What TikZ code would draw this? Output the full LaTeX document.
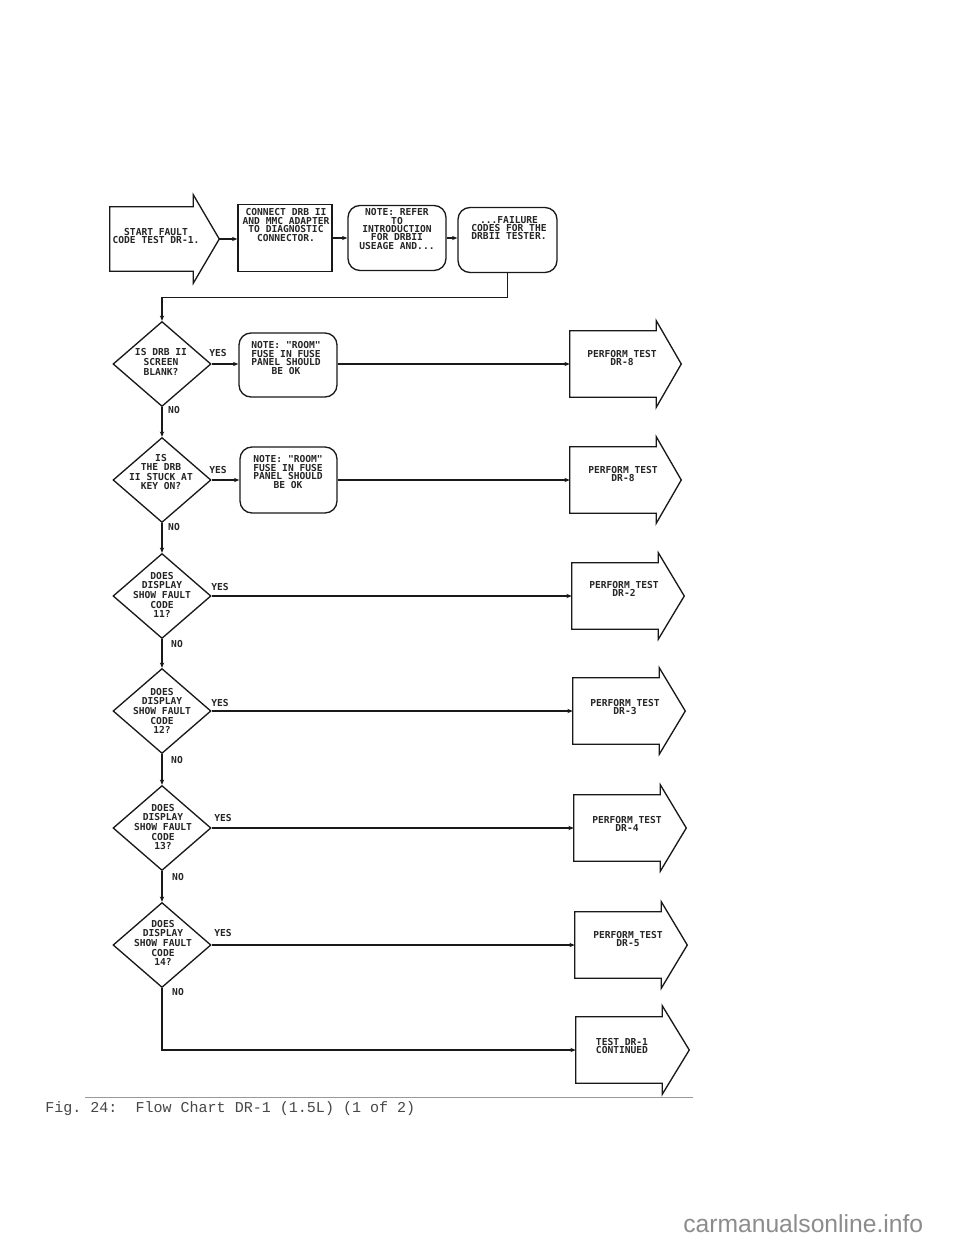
\documentclass[tikz,border=0pt]{standalone}
\usepackage{fontspec}
\setmainfont{Liberation Sans}
\newfontfamily\chartfont{DejaVu Sans Mono Bold}
\newfontfamily\capfont{Liberation Mono}
\newfontfamily\wmfont{Liberation Sans}
\usetikzlibrary{shapes.geometric,arrows.meta,calc}
\newcommand\flowarrow[3]{%
  \draw[shapeline] (#1.north east) -- ($(#1.north east)+(0,-#2)$) -- ($(#1.east)+(#3,0)$) -- ($(#1.south east)+(0,#2)$) -- (#1.south east) -- (#1.south west) -- (#1.north west) -- cycle;}
\begin{document}
\begin{tikzpicture}[x=0.75pt,y=-0.75pt,
  shapeline/.style={draw=black!90,line width=1pt,line join=miter},
  plainbox/.style={shapeline,rectangle,inner sep=0pt},
  roundbox/.style={shapeline,rectangle,rounded corners=9pt,inner sep=0pt},
  dia/.style={shapeline,diamond,inner sep=0pt,minimum width=73.5pt,minimum height=63.75pt},
  abody/.style={rectangle,draw=none,inner sep=0pt,minimum width=64.5pt,minimum height=49.5pt},
  txt/.style={font={\chartfont\fontsize{7.2}{6.3}\selectfont},align=center,inner sep=0pt,text=black!85},
  dtxt/.style={font={\chartfont\fontsize{7.2}{7.2}\selectfont},align=center,inner sep=0pt,text=black!85},
  lab/.style={font={\chartfont\fontsize{7.2}{7.2}\selectfont},inner sep=0pt,text=black!85},
  conn/.style={draw=black!90,line width=1pt,-{Stealth[length=4pt,width=3.2pt]}}]
\useasboundingbox (0,0) rectangle (960,1242);
\fill[white] (0,0) rectangle (960,1242);

% ---- top row
\node[abody,minimum width=62.25pt,minimum height=48pt] (start) at (151.5,239) {};
\flowarrow{start}{12}{26}
\coordinate (stip) at ($(start.east)+(26,0)$);
\node[txt] (startt) at (156,236) {START FAULT\\CODE TEST DR-1.};

\node[plainbox,minimum width=70.5pt,minimum height=50.25pt] (box2) at (285,238) {};
\node[txt] (box2t) at (286,225) {CONNECT DRB II\\AND MMC ADAPTER\\TO DIAGNOSTIC\\CONNECTOR.};

\node[roundbox,minimum width=73.5pt,minimum height=48.75pt] (box3) at (397,238) {};
\node[txt] (box3t) at (397,229) {NOTE: REFER\\TO\\INTRODUCTION\\FOR DRBII\\USEAGE AND...};

\node[roundbox,minimum width=74.25pt,minimum height=48.75pt] (box4) at (507.5,240) {};
\node[txt] (box4t) at (509,228) {...FAILURE\\CODES FOR THE\\DRBII TESTER.};

\draw[conn] (stip) -- (stip -| box2.west);
\draw[conn] (box2.east) -- (box3.west);
\draw[conn] (box3.east) -- (box3.east -| box4.west);

% ---- diamonds
\node[dia] (d1) at (162,364) {};
\node[dia] (d2) at (162,480) {};
\node[dia] (d3) at (162,596) {};
\node[dia] (d4) at (162,711) {};
\node[dia] (d5) at (162,828) {};
\node[dia] (d6) at (162,945) {};
\node[dtxt] (d1t) at (161,362) {IS DRB II\\SCREEN\\BLANK?};
\node[dtxt] (d2t) at (161,472) {IS\\THE DRB\\II STUCK AT\\KEY ON?};
\node[dtxt] (d3t) at (162,595) {DOES\\DISPLAY\\SHOW FAULT\\CODE\\11?};
\node[dtxt] (d4t) at (162,711) {DOES\\DISPLAY\\SHOW FAULT\\CODE\\12?};
\node[dtxt] (d5t) at (163,827) {DOES\\DISPLAY\\SHOW FAULT\\CODE\\13?};
\node[dtxt] (d6t) at (163,943) {DOES\\DISPLAY\\SHOW FAULT\\CODE\\14?};

% ---- notes
\node[roundbox,minimum width=73.5pt,minimum height=48pt] (n1) at (288,365) {};
\node[txt] (n1t) at (286,358) {NOTE: "ROOM"\\FUSE IN FUSE\\PANEL SHOULD\\BE OK};
\node[roundbox,minimum width=72.75pt,minimum height=49.5pt] (n2) at (288.5,480) {};
\node[txt] (n2t) at (288,472) {NOTE: "ROOM"\\FUSE IN FUSE\\PANEL SHOULD\\BE OK};

% ---- result arrows
\node[abody] (a1) at (613,364) {};
\node[abody] (a2) at (613,480) {};
\node[abody] (a3) at (615,596) {};
\node[abody] (a4) at (616,711) {};
\node[abody] (a5) at (617,828) {};
\node[abody] (a6) at (618,945) {};
\node[abody] (a7) at (619,1050) {};
\flowarrow{a1}{10}{25}
\flowarrow{a2}{10}{25}
\flowarrow{a3}{10}{26}
\flowarrow{a4}{10}{26}
\flowarrow{a5}{10}{26}
\flowarrow{a6}{10}{26}
\flowarrow{a7}{11}{27}
\node[txt] (a1t) at (622,358) {PERFORM TEST\\DR-8};
\node[txt] (a2t) at (623,474) {PERFORM TEST\\DR-8};
\node[txt] (a3t) at (624,589) {PERFORM TEST\\DR-2};
\node[txt] (a4t) at (625,707) {PERFORM TEST\\DR-3};
\node[txt] (a5t) at (627,824) {PERFORM TEST\\DR-4};
\node[txt] (a6t) at (628,939) {PERFORM TEST\\DR-5};
\node[txt] (a7t) at (622,1046) {TEST DR-1\\CONTINUED};

% ---- labels
\node[lab] (y1) at (218,353) {YES};
\node[lab] (y2) at (218,470) {YES};
\node[lab] (y3) at (220,587) {YES};
\node[lab] (y4) at (220,703) {YES};
\node[lab] (y5) at (223,818) {YES};
\node[lab] (y6) at (223,933) {YES};
\node[lab] (no1) at (174,410) {NO};
\node[lab] (no2) at (174,527) {NO};
\node[lab] (no3) at (177,644) {NO};
\node[lab] (no4) at (177,760) {NO};
\node[lab] (no5) at (178,877) {NO};
\node[lab] (no6) at (178,992) {NO};

% ---- connectors
\draw[conn] (box4.south) -- ++(0,24) -| (d1.north);
\draw[conn] (d1.east) -- (d1.east -| n1.west);
\draw[conn] (n1.east |- d1.east) -- (d1.east -| a1.west);
\draw[conn] (d1.south) -- (d2.north);
\draw[conn] (d2.east) -- (d2.east -| n2.west);
\draw[conn] (n2.east |- d2.east) -- (d2.east -| a2.west);
\draw[conn] (d2.south) -- (d3.north);
\draw[conn] (d3.east) -- (d3.east -| a3.west);
\draw[conn] (d3.south) -- (d4.north);
\draw[conn] (d4.east) -- (d4.east -| a4.west);
\draw[conn] (d4.south) -- (d5.north);
\draw[conn] (d5.east) -- (d5.east -| a5.west);
\draw[conn] (d5.south) -- (d6.north);
\draw[conn] (d6.east) -- (d6.east -| a6.west);
\draw[conn] (d6.south) |- (a7.west);

% ---- caption
\coordinate (capl) at (85,1097);
\coordinate (capr) at (693,1097);
\draw[black!40,line width=0.6pt] (capl) -- (capr);
\node[anchor=base west,inner sep=0pt,text=black!72,font={\capfont\fontsize{11.28}{13}\selectfont}] (cap) at (45,1112) {Fig.\ 24:\ \ Flow Chart DR-1 (1.5L) (1 of 2)};
\node[anchor=base west,inner sep=0pt,text=black!45,font={\wmfont\fontsize{18.5}{20}\selectfont}] (wm) at (683,1232) {carmanualsonline.info};
\end{tikzpicture}
\end{document}
